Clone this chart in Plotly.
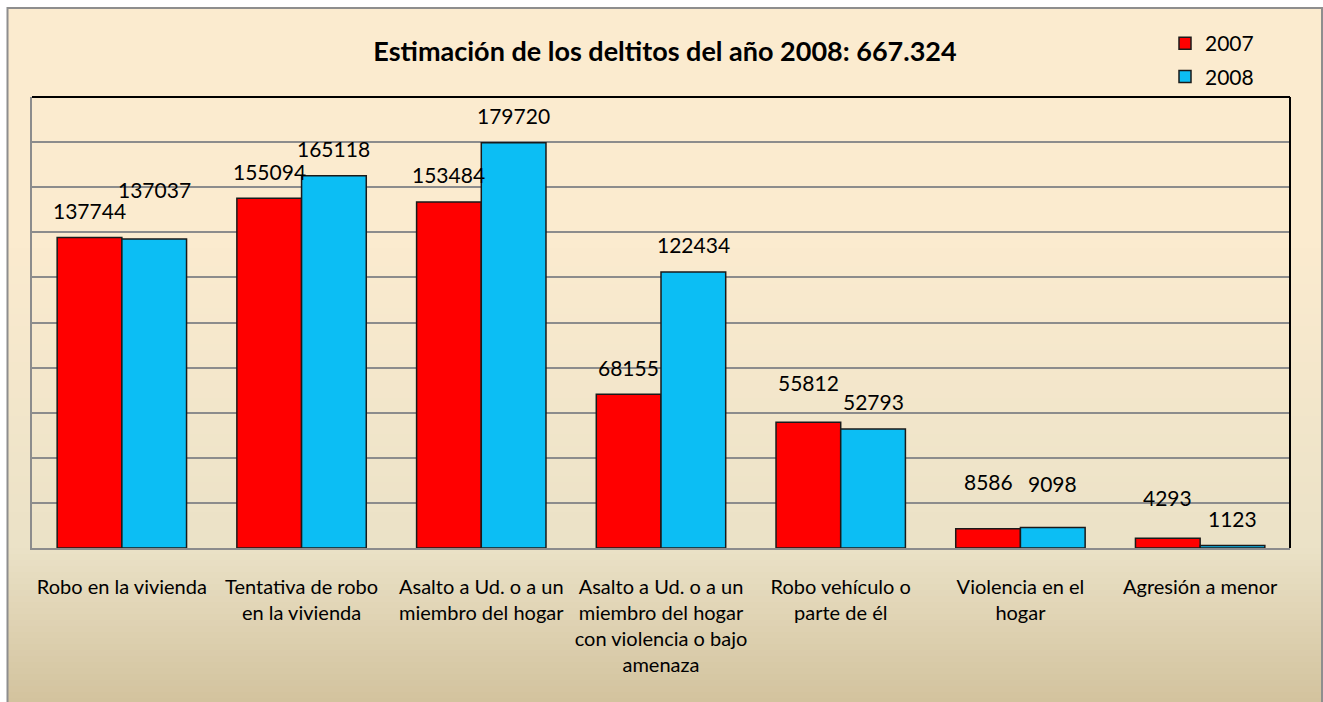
import plotly.graph_objects as go

categories = [
    "Robo en la vivienda",
    "Tentativa de robo<br>en la vivienda",
    "Asalto a Ud. o a un<br>miembro del hogar",
    "Asalto a Ud. o a un<br>miembro del hogar<br>con violencia o bajo<br>amenaza",
    "Robo vehículo o<br>parte de él",
    "Violencia en el<br>hogar",
    "Agresión a menor",
]
values_2007 = [137744, 155094, 153484, 68155, 55812, 8586, 4293]
values_2008 = [137037, 165118, 179720, 122434, 52793, 9098, 1123]
series_names = ["2007", "2008"]
title_text = "Estimación de los deltitos del año 2008: 667.324"

# label extra lifts (px) to mimic manual placement in the original
lift_2007 = [0, 0, 0, 0, 13, 20, 14]
lift_2008 = [22, 0, 0, 0, 0, 17, 0]

W, H = 1323, 702
ML, MR, MT, MB = 32, 33, 97, 154
PW, PH = W - ML - MR, H - MT - MB
BARGAP = 0.28
FONT = "Lato, 'Open Sans', sans-serif"

RED = "#FF0000"
BLUE = "#0CBEF4"

def px2x(px):
    return (px - ML) / PW

def px2y(py):
    return (H - MB - py) / PH

fig = go.Figure()
fig.add_trace(go.Bar(name=series_names[0], x=categories, y=values_2007,
                     marker=dict(color=RED, line=dict(color="#1a1a1a", width=1.5)),
                     legendgroup="a"))
fig.add_trace(go.Bar(name=series_names[1], x=categories, y=values_2008,
                     marker=dict(color=BLUE, line=dict(color="#1a1a1a", width=1.5)),
                     legendgroup="b"))

# background gradient (styling) built as stripes
def hex2rgb(h):
    h = h.lstrip("#")
    return tuple(int(h[i:i + 2], 16) for i in (0, 2, 4))

stops = [(8, "#FCEBCF"), (250, "#FBEBCF"), (548, "#EBE2C7"), (702, "#D3C39E")]
shapes = []
y = 8
step = 6
while y < 702:
    y2 = min(y + step, 702)
    ym = (y + y2) / 2
    for i in range(len(stops) - 1):
        a, ca = stops[i]
        b, cb = stops[i + 1]
        if a <= ym <= b:
            t = (ym - a) / (b - a)
            r1, g1, b1 = hex2rgb(ca)
            r2, g2, b2 = hex2rgb(cb)
            col = "rgb(%d,%d,%d)" % (r1 + (r2 - r1) * t, g1 + (g2 - g1) * t, b1 + (b2 - b1) * t)
            break
    shapes.append(dict(type="rect", xref="paper", yref="paper", layer="below",
                       x0=px2x(8), x1=px2x(1322), y0=px2y(y2 + 0.5), y1=px2y(y),
                       fillcolor=col, line=dict(width=0)))
    y = y2
# outer border
shapes.append(dict(type="rect", xref="paper", yref="paper", layer="above",
                   x0=px2x(7.5), x1=px2x(1322), y0=px2y(705), y1=px2y(8),
                   fillcolor="rgba(0,0,0,0)", line=dict(color="#8E8E8E", width=2)))
# plot area top and right black borders
shapes.append(dict(type="line", xref="paper", yref="paper", x0=0, x1=1, y0=1, y1=1,
                   line=dict(color="black", width=2)))
shapes.append(dict(type="line", xref="paper", yref="paper", x0=1, x1=1, y0=0, y1=1,
                   line=dict(color="black", width=2)))

# value labels
cat_w = PW / len(categories)
bar_w = cat_w * (1 - BARGAP) / 2
annotations = []
for vals, sign, lifts in ((values_2007, -1, lift_2007), (values_2008, 1, lift_2008)):
    for c, v, lf in zip(categories, vals, lifts):
        annotations.append(dict(x=c, y=v, xref="x", yref="y", text=str(v), showarrow=False,
                                xshift=sign * bar_w / 2, yshift=27 + lf, yanchor="middle",
                                font=dict(family=FONT, size=21, color="black")))

fig.update_layout(
    width=W, height=H,
    margin=dict(l=ML, r=MR, t=MT, b=MB, autoexpand=False),
    paper_bgcolor="white",
    plot_bgcolor="rgba(0,0,0,0)",
    barmode="group", bargap=BARGAP, bargroupgap=0,
    title=dict(text="<b>" + title_text + "</b>", x=665 / W, xref="container", xanchor="center",
               y=1 - 52 / H, yref="container", yanchor="middle",
               font=dict(family=FONT, size=27, color="black")),
    legend=dict(x=1165 / W, y=1 - 23 / H, xref="container", yref="container",
                xanchor="left", yanchor="top", bgcolor="rgba(0,0,0,0)",
                font=dict(family=FONT, size=21, color="black"), tracegroupgap=3),
    xaxis=dict(showline=True, linecolor="#8C8C8C", linewidth=2, ticks="",
               ticklabelstandoff=20,
               tickfont=dict(family=FONT, size=20, color="black")),
    yaxis=dict(range=[0, 200000], dtick=20000, showticklabels=False,
               showgrid=True, gridcolor="#8C8C8C", gridwidth=1.5,
               showline=True, linecolor="#8C8C8C", linewidth=2, zeroline=False, ticks=""),
    shapes=shapes,
    annotations=annotations,
    showlegend=True,
)

fig.write_html("out.html", post_script="document.body.style.margin='0';",
               config={"displayModeBar": False})
